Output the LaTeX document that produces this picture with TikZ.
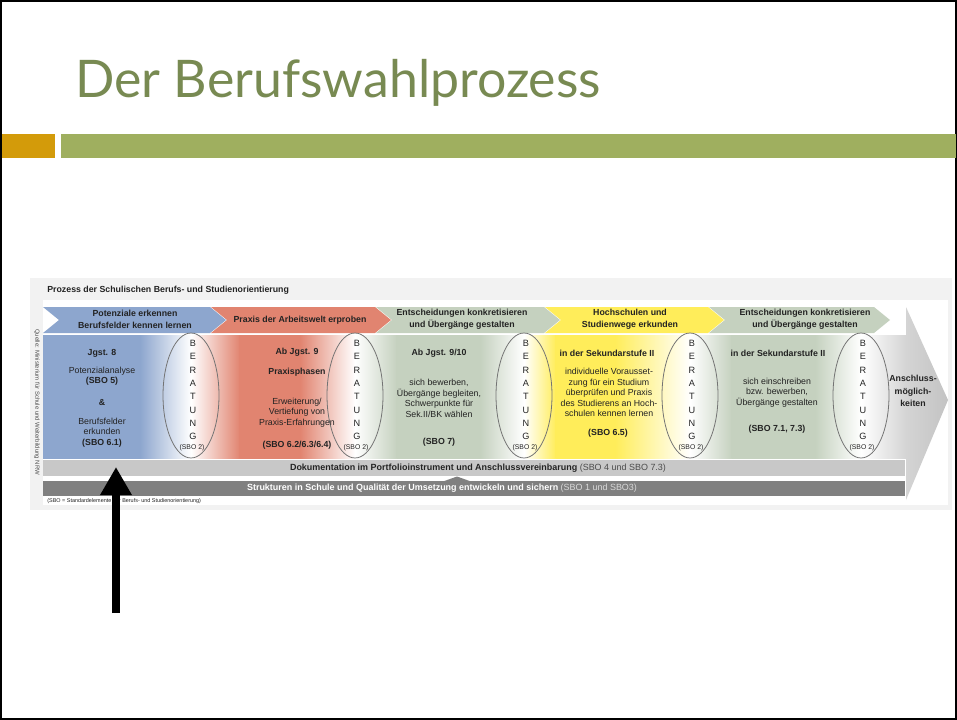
\documentclass[tikz,border=0pt]{standalone}
\usepackage{fontspec}
\setmainfont{Liberation Sans}
\newfontfamily\titlefont{Lato}
\usetikzlibrary{arrows.meta,shapes.geometric}

\definecolor{titlegreen}{RGB}{120,138,82}
\definecolor{barorange}{RGB}{211,155,10}
\definecolor{bargreen}{RGB}{159,175,95}
\definecolor{cblue}{RGB}{141,166,206}
\definecolor{cred}{RGB}{225,132,112}
\definecolor{cgreen}{RGB}{197,209,191}
\definecolor{cyellow}{RGB}{255,237,90}
\definecolor{panelgray}{RGB}{242,242,242}
\definecolor{docgray}{RGB}{200,200,200}
\definecolor{strgray}{RGB}{128,128,128}
\definecolor{arrgray}{RGB}{212,212,212}
\definecolor{ovalline}{RGB}{115,115,115}
\definecolor{txt}{RGB}{35,35,35}

\pgfdeclarehorizontalshading{bodyshade}{100bp}{
  color(0bp)=(cblue); color(25bp)=(cblue); color(30.62bp)=(cblue);
  color(33.575bp)=(white); color(36.414bp)=(cred); color(39.89bp)=(cred);
  color(43.076bp)=(white); color(45.51bp)=(cgreen); color(50.318bp)=(cgreen);
  color(52.868bp)=(white); color(54.722bp)=(cyellow); color(58.14bp)=(cyellow);
  color(62.485bp)=(white); color(64.919bp)=(cgreen); color(69.727bp)=(cgreen);
  color(72.393bp)=(white); color(75bp)=(arrgray); color(100bp)=(arrgray)}

\newcommand\fs[2]{\fontsize{#1}{#2}\selectfont}
\newcommand\chevron[3]{\fill[#3] (#1,307) -- ({#2-16},307) -- (#2,320) -- ({#2-16},333) -- (#1,333) -- ({#1+16},320) -- cycle;}

\begin{document}
\begin{tikzpicture}[x=0.02cm,y=-0.02cm,
  chevtxt/.style={font={\bfseries\fs{5}{6.6}}, align=center, text=txt, inner sep=0},
  bodytxt/.style={font={\fs{5}{5.95}}, align=center, text=txt, inner sep=0},
  bodybold/.style={font={\bfseries\fs{5}{5.95}}, align=center, text=txt, inner sep=0},
  oval/.style={ellipse, draw=ovalline, line width=0.45pt, minimum width=1.12cm, minimum height=2.5cm, inner sep=0},
  letters/.style={font={\fs{5.2}{7.6}}, align=center, text=txt, inner sep=0},
  sbo/.style={font={\fs{3.9}{4.5}}, text=txt, inner sep=0},
  bartxt/.style={font={\fs{5.1}{6}}, inner sep=0},
]
\useasboundingbox (0,0) rectangle (957,720);
% slide
\draw[line width=1.2pt, fill=white] (1,1.2) rectangle (956,718.8);
\node[anchor=base west, inner sep=0, font={\titlefont\fontsize{29.5}{31}\selectfont}, text=titlegreen] (title) at (75,97) {Der Berufswahlprozess};
\fill[barorange] (2,134) rectangle (55,158);
\fill[bargreen] (61,134) rectangle (955.5,158);

% panel
\fill[panelgray] (30,278) rectangle (952,510);
\fill[white] (43,300) rectangle (948,505);
\node[anchor=west, font={\bfseries\fs{5}{6}}, text=txt, inner sep=0] (head) at (47,290) {Prozess der Schulischen Berufs- und Studienorientierung};
\node[rotate=-90, font={\fs{3.4}{4}}, text=black!70, inner sep=0] (src) at (37,402) {Quelle: Ministerium für Schule und Weiterbildung NRW};

% big arrow head
\shade[left color=arrgray, right color=arrgray!92!black] (906,307) -- (948,400) -- (906,500) -- cycle;

% chevrons
\chevron{43}{226}{cblue}
\chevron{211}{391}{cred}
\chevron{376}{560}{cgreen}
\chevron{545}{724}{cyellow}
\chevron{709}{890}{cgreen}
\node[chevtxt] (c1) at (135,319.5) {Potenziale erkennen\\Berufsfelder kennen lernen};
\node[chevtxt] (c2) at (300,320) {Praxis der Arbeitswelt erproben};
\node[chevtxt] (c3) at (462,319.5) {Entscheidungen konkretisieren\\und Übergänge gestalten};
\node[chevtxt] (c4) at (630,319.5) {Hochschulen und\\Studienwege erkunden};
\node[chevtxt] (c5) at (805,319.5) {Entscheidungen konkretisieren\\und Übergänge gestalten};

% body sections (one continuous shading, solid zones laid over it)
\shade[shading=bodyshade] (43,335) rectangle (906.2,458);
\fill[cblue] (43,335) rectangle (141,458);
\fill[cred] (239,335) rectangle (301,458);
\fill[cgreen] (396,335) rectangle (481,458);
\fill[cyellow] (555,335) rectangle (616,458);
\fill[cgreen] (731,335) rectangle (816,458);

% ovals
\foreach \i/\cx in {1/191,2/355,3/524,4/690,5/861}{
  \node[oval] (ov\i) at (\cx,395.5) {};
  \node[letters] (ber\i) at (\cx+2,390) {B\\E\\R\\A\\T\\U\\N\\G};
  \node[sbo] (sbo\i) at (\cx+1,447.5) {(SBO 2)};
}

% section texts
\node[bodybold] (s1a) at (102,353) {Jgst. 8};
\node[bodytxt] (s1b) at (102,376) {Potenzialanalyse\\\textbf{(SBO 5)}};
\node[bodybold] (s1c) at (102,402) {\&};
\node[bodytxt] (s1d) at (102,432.5) {Berufsfelder\\erkunden\\\textbf{(SBO 6.1)}};

\node[bodybold] (s2a) at (297,352.5) {Ab Jgst. 9};
\node[bodybold] (s2b) at (297,372.5) {Praxisphasen};
\node[bodytxt] (s2c) at (297,412.5) {Erweiterung/\\Vertiefung von\\Praxis-Erfahrungen};
\node[bodybold] (s2d) at (297,445) {(SBO 6.2/6.3/6.4)};

\node[bodybold] (s3a) at (439,353) {Ab Jgst. 9/10};
\node[bodytxt] (s3b) at (439,398.5) {sich bewerben,\\Übergänge begleiten,\\Schwerpunkte für\\Sek.II/BK wählen};
\node[bodybold] (s3c) at (439,442) {(SBO 7)};

\node[bodybold] (s4a) at (607,353) {in der Sekundarstufe II};
\node[bodytxt] (s4b) at (609,392.5) {individuelle Vorausset-\\zung für ein Studium\\überprüfen und Praxis\\des Studierens an Hoch-\\schulen kennen lernen};
\node[bodybold] (s4c) at (608,433) {(SBO 6.5)};

\node[bodybold] (s5a) at (778,353) {in der Sekundarstufe II};
\node[bodytxt] (s5b) at (777,392.5) {sich einschreiben\\bzw. bewerben,\\Übergänge gestalten};
\node[bodybold] (s5c) at (777,429) {(SBO 7.1, 7.3)};

\node[font={\bfseries\fs{5}{7}}, align=center, text=txt, inner sep=0] (ansch) at (913,391) {Anschluss-\\möglich-\\keiten};

% bars
\fill[docgray] (43,460) rectangle (905,476);
\fill[strgray] (43,481) rectangle (905,496);
\fill[strgray] (443,481.5) -- (457,476.5) -- (471,481.5) -- cycle;
\node[bartxt, text=txt] (doc) at (478,468) {\textbf{Dokumentation im Portfolioinstrument und Anschlussvereinbarung} {\color{black!70}(SBO 4 und SBO 7.3)}};
\node[bartxt, text=white] (str) at (442,488.5) {\textbf{Strukturen in Schule und Qualität der Umsetzung entwickeln und sichern} {\color{black!15}(SBO 1 und SBO3)}};
\node[anchor=west, font={\fs{3.1}{4}}, text=txt, inner sep=0] (fn) at (47,501) {(SBO = Standardelemente der Berufs- und Studienorientierung)};

% pointer arrow
\coordinate (arrTail) at (116,613);
\coordinate (arrTip) at (116,467);
\draw[line width=4.5pt, -{Triangle[width=17pt,length=16pt]}] (arrTail) -- (arrTip);
\end{tikzpicture}
\end{document}
